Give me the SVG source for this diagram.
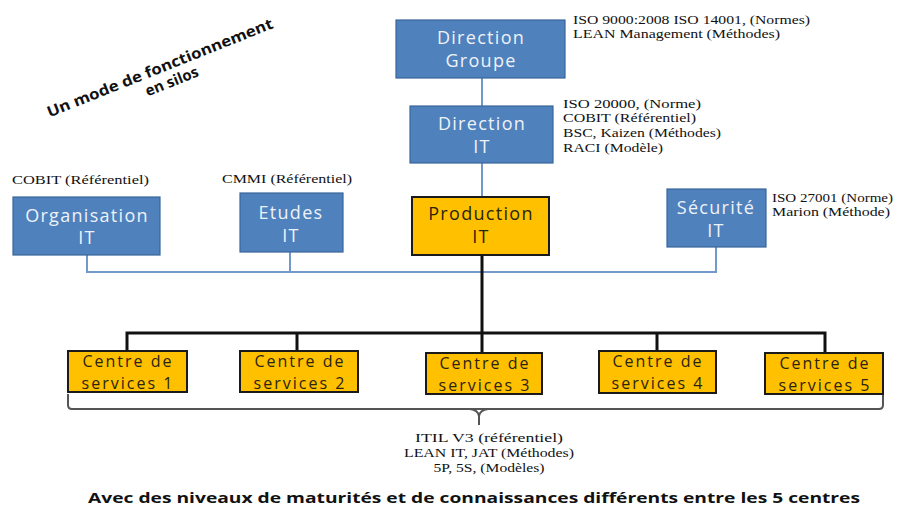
<svg xmlns="http://www.w3.org/2000/svg" width="906" height="508" viewBox="0 0 906 508">
<style>
.blue{fill:#4f81bd;stroke:#3a659a;stroke-width:1.2}
.yel{fill:#ffc000;stroke:#1a1a1a;stroke-width:2}
.bt{font-family:"Open Sans","Liberation Sans",sans-serif;font-size:18px;letter-spacing:1.3px;text-anchor:middle;dominant-baseline:central}
.ct{font-family:"Open Sans","Liberation Sans",sans-serif;font-size:16px;letter-spacing:2px;text-anchor:middle;dominant-baseline:central;fill:#2a2410}
.wt{fill:#eef2f8}
.dt{fill:#2a2410}
.ann{font-family:"Liberation Serif","Times New Roman",serif;font-size:13.5px;fill:#111}
.annc{font-family:"Liberation Serif","Times New Roman",serif;font-size:13.5px;fill:#111;text-anchor:middle}
.bl{fill:none;stroke:#7398cc;stroke-width:2}
.bk{fill:none;stroke:#111;stroke-width:3}
.br{fill:none;stroke:#555;stroke-width:2}
.bold{font-family:"Open Sans","Liberation Sans",sans-serif;font-weight:bold;font-size:15px;fill:#111}
</style>
<rect width="906" height="508" fill="#fff"/>
<g id="title" transform="translate(160,68) rotate(-21.8)">
<text class="bold" x="0" y="5" text-anchor="middle" textLength="242" lengthAdjust="spacingAndGlyphs">Un mode de fonctionnement</text>
<text class="bold" x="6" y="22" text-anchor="middle">en silos</text>
</g>
<g id="connectors">
<path class="bl" d="M482 78V106M482 163V197"/>
<path class="bl" d="M87 255V272H716V247M290 252V272"/>
<path class="bk" d="M482 255V352M127 351V333H825V353M297 351V333M657 351V333"/>
<path class="br" d="M68 394V405Q68 409 72 409H879Q883 409 883 405V394"/>
<path class="br" d="M470 409Q478 410 479 416V425M488 409Q480 410 479 416"/>
</g>
<g id="direction-groupe">
<rect class="blue" x="396" y="20" width="169" height="58"/>
<text class="bt wt" x="481" y="37">Direction</text>
<text class="bt wt" x="481" y="60">Groupe</text>
<text class="ann" x="573" y="24" textLength="237" lengthAdjust="spacingAndGlyphs">ISO 9000:2008 ISO 14001, (Normes)</text>
<text class="ann" x="573" y="38" textLength="207" lengthAdjust="spacingAndGlyphs">LEAN Management (Méthodes)</text>
</g>
<g id="direction-it">
<rect class="blue" x="410" y="106" width="143" height="57"/>
<text class="bt wt" x="482" y="123">Direction</text>
<text class="bt wt" x="482" y="146">IT</text>
<text class="ann" x="563" y="108" textLength="138" lengthAdjust="spacingAndGlyphs">ISO 20000,  (Norme)</text>
<text class="ann" x="563" y="122" textLength="133" lengthAdjust="spacingAndGlyphs">COBIT (Référentiel)</text>
<text class="ann" x="563" y="137" textLength="158" lengthAdjust="spacingAndGlyphs">BSC, Kaizen (Méthodes)</text>
<text class="ann" x="563" y="152" textLength="100" lengthAdjust="spacingAndGlyphs">RACI (Modèle)</text>
</g>
<g id="organisation-it">
<rect class="blue" x="13" y="197" width="147" height="58"/>
<text class="bt wt" x="87" y="215">Organisation</text>
<text class="bt wt" x="87" y="237">IT</text>
<text class="ann" x="12" y="184" textLength="137" lengthAdjust="spacingAndGlyphs">COBIT  (Référentiel)</text>
</g>
<g id="etudes-it">
<rect class="blue" x="240" y="193" width="103" height="59"/>
<text class="bt wt" x="291" y="212">Etudes</text>
<text class="bt wt" x="291" y="235">IT</text>
<text class="ann" x="222" y="183" textLength="130" lengthAdjust="spacingAndGlyphs">CMMI (Référentiel)</text>
</g>
<g id="production-it">
<rect class="yel" x="412" y="197" width="137" height="58"/>
<text class="bt dt" x="481" y="213">Production</text>
<text class="bt dt" x="481" y="236">IT</text>
</g>
<g id="securite-it">
<rect class="blue" x="667" y="189" width="99" height="58"/>
<text class="bt wt" x="716" y="207">Sécurité</text>
<text class="bt wt" x="716" y="230">IT</text>
<text class="ann" x="772" y="202" textLength="121" lengthAdjust="spacingAndGlyphs">ISO 27001  (Norme)</text>
<text class="ann" x="772" y="216" textLength="118" lengthAdjust="spacingAndGlyphs">Marion (Méthode)</text>
</g>
<g id="cs1">
<rect class="yel" x="68" y="351" width="119" height="41"/>
<text class="ct" x="128" y="360.5">Centre de</text>
<text class="ct" x="128" y="382.5">services 1</text>
</g>
<g id="cs2">
<rect class="yel" x="240" y="351" width="118" height="41"/>
<text class="ct" x="300" y="360.5">Centre de</text>
<text class="ct" x="300" y="382.5">services 2</text>
</g>
<g id="cs3">
<rect class="yel" x="426" y="353" width="116" height="41"/>
<text class="ct" x="485" y="362.5">Centre de</text>
<text class="ct" x="485" y="384.5">services 3</text>
</g>
<g id="cs4">
<rect class="yel" x="599" y="351" width="117" height="42"/>
<text class="ct" x="658" y="360.5">Centre de</text>
<text class="ct" x="658" y="382.5">services 4</text>
</g>
<g id="cs5">
<rect class="yel" x="765" y="353" width="118" height="41"/>
<text class="ct" x="825" y="362.5">Centre de</text>
<text class="ct" x="825" y="384.5">services 5</text>
</g>
<g id="itil">
<text class="annc" x="489" y="442" textLength="148" lengthAdjust="spacingAndGlyphs">ITIL V3  (référentiel)</text>
<text class="annc" x="489" y="457" textLength="170" lengthAdjust="spacingAndGlyphs">LEAN IT, JAT (Méthodes)</text>
<text class="annc" x="489" y="472" textLength="111" lengthAdjust="spacingAndGlyphs">5P, 5S, (Modèles)</text>
</g>
<g id="footer">
<text class="bold" x="88" y="503" font-size="16" textLength="772" lengthAdjust="spacingAndGlyphs">Avec des niveaux de maturités et de  connaissances différents entre les 5  centres</text>
</g>
</svg>
